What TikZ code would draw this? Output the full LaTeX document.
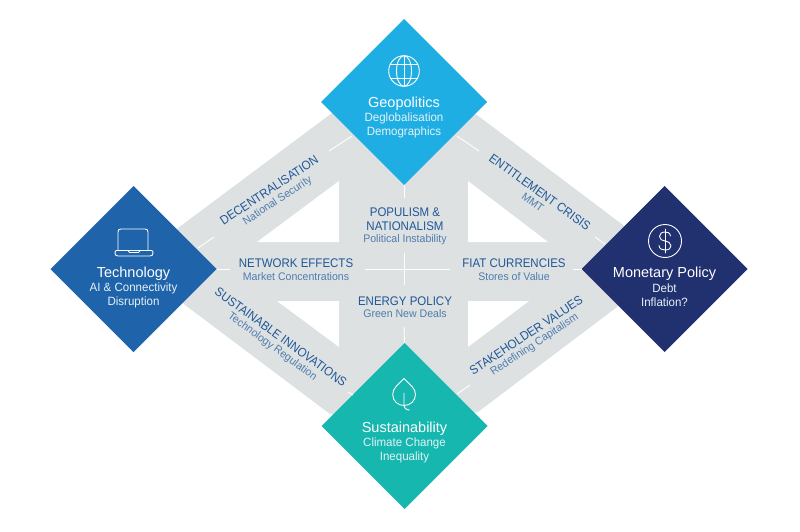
\documentclass[tikz,border=0pt]{standalone}
\usepackage{fontspec}
\setmainfont{Liberation Sans}
\newfontfamily\headfont[FakeStretch=0.92]{Liberation Sans}
\newfontfamily\subfont[FakeStretch=0.96]{Liberation Sans}
\usetikzlibrary{shapes.geometric}
\definecolor{bandgrey}{HTML}{DDE1E2}
\definecolor{geoblue}{HTML}{1FAEE3}
\definecolor{techblue}{HTML}{1F63AB}
\definecolor{moneyblue}{HTML}{21306E}
\definecolor{sustteal}{HTML}{16B7AE}
\definecolor{headblue}{HTML}{1F5797}
\definecolor{subblue}{HTML}{4F7CAD}
\definecolor{subwhite}{HTML}{E4F2F8}
\tikzset{
  hub/.style={diamond,aspect=1,inner sep=0pt,outer sep=0pt,minimum width=166pt,minimum height=166pt},
  label/.style={inner sep=0pt,anchor=center,text depth=0pt},
  hubtitle/.style={label,text height=10.4pt,text=white,font=\fontsize{14.5}{16}\selectfont},
  hubsub/.style={label,text height=8.6pt,text=subwhite,font=\subfont\fontsize{12}{13}\selectfont},
  headtext/.style={label,text height=9pt,text=headblue,font=\headfont\fontsize{12.5}{13}\selectfont},
  subtext/.style={label,text height=7.9pt,text=subblue,font=\subfont\fontsize{11}{12}\selectfont},
  gap/.style={draw=white,line width=0.9pt},
  icon/.style={draw=white,line width=0.9pt,line join=round,line cap=round}
}
\begin{document}
\begin{tikzpicture}[x=1pt,y=-1pt]
\useasboundingbox (0,0) rectangle (800,532);
% grey bands
\fill[bandgrey] (332,113) -- (404,100) -- (477,115) -- (623,225) -- (650,269) -- (617,307) -- (478,412) -- (404,426) -- (330,414) -- (185,305) -- (150,269) -- (178,228) -- cycle;
% white holes
\fill[white] (339,181) -- (339,242) -- (257,242) -- cycle;
\fill[white] (468,181) -- (468,242) -- (548,242) -- cycle;
\fill[white] (277,301) -- (339,301) -- (339,347) -- cycle;
\fill[white] (468,301) -- (529,301) -- (468,347) -- cycle;
% hubs
\node[hub,fill=geoblue] (geo) at (404,102) {};
\node[hub,fill=techblue] (tech) at (133.5,269) {};
\node[hub,fill=moneyblue] (money) at (664.5,269) {};
\node[hub,fill=sustteal] (sust) at (404.5,426) {};
% free ends of the white gap lines
\coordinate (geoL) at (352,136); \coordinate (geoLe) at (329,151);
\coordinate (geoR) at (457,136); \coordinate (geoRe) at (479,151);
\coordinate (geoBe) at (404,198);
\coordinate (techU) at (214,237); \coordinate (techUe) at (198,248);
\coordinate (techRe) at (230,269);
\coordinate (monU) at (605,244); \coordinate (monUe) at (595,237);
\coordinate (monLe) at (573,269);
\coordinate (susL) at (353,395); \coordinate (susLe) at (348,392);
\coordinate (susR) at (457,394); \coordinate (susRe) at (470,385);
\coordinate (susTe) at (404,327);
\coordinate (crossW) at (365,269); \coordinate (crossE) at (450,269);
\coordinate (crossN) at (404,253); \coordinate (crossS) at (404,285);
\draw[gap] (geoL) -- (geoLe);
\draw[gap] (geoR) -- (geoRe);
\draw[gap] (geo.south) -- (geoBe);
\draw[gap] (techU) -- (techUe);
\draw[gap] (tech.east) -- (techRe);
\draw[gap] (monU) -- (monUe);
\draw[gap] (money.west) -- (monLe);
\draw[gap] (susL) -- (susLe);
\draw[gap] (susR) -- (susRe);
\draw[gap] (sust.north) -- (susTe);
\draw[gap] (crossW) -- (crossE);
\draw[gap] (crossN) -- (crossS);
% globe icon
\draw[icon] (404,71) circle (15.3);
\draw[icon] (404,71) ellipse (7.5 and 15.3);
\draw[icon] (404,55.7) -- (404,86.3);
\draw[icon] (390.4,64) -- (417.6,64);
\draw[icon] (390.4,78) -- (417.6,78);
% laptop icon
\draw[icon] (118,250) -- (118,232) .. controls (118,230) and (119,229) .. (121,229) -- (145,229) .. controls (147,229) and (148,230) .. (148,232) -- (148,250);
\draw[icon] (116.5,250.5) -- (151.5,250.5) .. controls (153,250.5) and (153,252) .. (153,253) .. controls (153,255) and (152,256) .. (150,256) -- (118,256) .. controls (116,256) and (115,255) .. (115,253) .. controls (115,252) and (115,250.5) .. (116.5,250.5) -- cycle;
\draw[icon] (128,250.5) -- (129.5,252.5) -- (138.5,252.5) -- (140,250.5);
% dollar icon
\draw[icon] (665,241) circle (16.5);
\draw[icon] (665,229) -- (665,253);
\draw[icon] (670.5,236) .. controls (670,232.5) and (667.5,232) .. (665,232) .. controls (661.5,232) and (659.5,234) .. (659.5,236.5) .. controls (659.5,239.5) and (662,240.5) .. (665,241) .. controls (668.5,241.8) and (671,243) .. (671,246) .. controls (671,248.8) and (668.5,250) .. (665,250) .. controls (662,250) and (659.3,249) .. (659,245.5);
% leaf icon
\draw[icon] (404,378.5) .. controls (398,385) and (392.7,388) .. (392.7,394.5) .. controls (392.7,401) and (398,405.5) .. (404,405.5) .. controls (410,405.5) and (415.5,401) .. (415.5,394.5) .. controls (415.5,388) and (410,385) .. (404,378.5) -- cycle;
\draw[icon] (404,393) -- (404,404) .. controls (404,408) and (406,410) .. (409.5,410);
% hub texts
\node[hubtitle] (geoA) at (404,102) {Geopolitics};
\node[hubsub] (geoB) at (404,117) {Deglobalisation};
\node[hubsub] (geoC) at (404,131) {Demographics};
\node[hubtitle] (techA) at (133.5,272) {Technology};
\node[hubsub] (techB) at (133.5,287) {AI \& Connectivity};
\node[hubsub] (techC) at (133.5,301) {Disruption};
\node[hubtitle] (monA) at (664.5,272.5) {Monetary Policy};
\node[hubsub] (monB) at (664.5,288) {Debt};
\node[hubsub] (monC) at (664.5,302) {Inflation?};
\node[hubtitle] (susA) at (404.5,427) {Sustainability};
\node[hubsub] (susB) at (404.5,442) {Climate Change};
\node[hubsub] (susC) at (404.5,456) {Inequality};
% centre labels
\node[headtext] (popA) at (405,212) {POPULISM \&};
\node[headtext] (popB) at (405,226) {NATIONALISM};
\node[subtext] (popC) at (405,239) {Political Instability};
\node[headtext] (netA) at (296,263) {NETWORK EFFECTS};
\node[subtext] (netB) at (296,277) {Market Concentrations};
\node[headtext] (fiatA) at (514,263) {FIAT CURRENCIES};
\node[subtext] (fiatB) at (514,277) {Stores of Value};
\node[headtext] (enA) at (405,300.5) {ENERGY POLICY};
\node[subtext] (enB) at (405,313.5) {Green New Deals};
% band labels
\node[headtext,rotate=33.5] (decA) at (269,190) {DECENTRALISATION};
\node[subtext,rotate=33.5] (decB) at (277,200) {National Security};
\node[headtext,rotate=-35.8] (entA) at (540,192) {ENTITLEMENT CRISIS};
\node[subtext,rotate=-35.8] (entB) at (533,202) {MMT};
\node[headtext,rotate=-36] (susH) at (281,337) {SUSTAINABLE INNOVATIONS};
\node[subtext,rotate=-36] (susS) at (273,346) {Technology Regulation};
\node[headtext,rotate=33.5] (staA) at (526,335) {STAKEHOLDER VALUES};
\node[subtext,rotate=33.5] (staB) at (534,344) {Redefining Capitalism};
\end{tikzpicture}
\end{document}
